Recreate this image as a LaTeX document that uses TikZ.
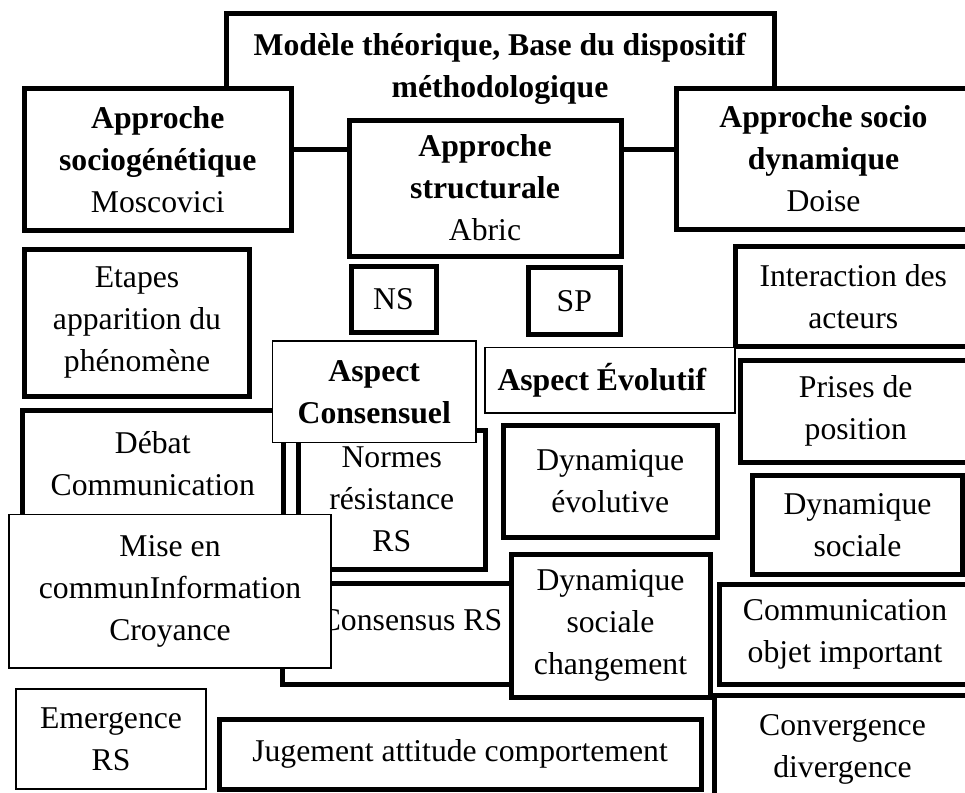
\documentclass[tikz,border=0pt]{standalone}
\usepackage{fontspec}
\setmainfont{Liberation Serif}
\newcommand\placebox[7]{%
  \pgfmathsetmacro\pbw{#5-#3}%
  \pgfmathsetmacro\pbh{#6-#4}%
  \pgfmathsetmacro\pbx{(#3+#5)/2}%
  \pgfmathsetmacro\pby{(#4+#6)/2}%
  \node[#2, minimum width=\pbw pt, minimum height=\pbh pt] (#1) at (\pbx,\pby) {#7};}
\tikzset{
  txt/.style={inner sep=0pt, outer sep=0pt, align=center, font=\fontsize{31.7}{42}\selectfont},
  box/.style={txt, rectangle, fill=white, draw=black},
  thickbox/.style={box, line width=5pt},
  thinbox/.style={box, line width=1.6pt},
  link/.style={draw=black, line width=5pt},
}
\begin{document}
\begin{tikzpicture}[x=1pt,y=-1pt]
\useasboundingbox (0,0) rectangle (965,792);
\clip (0,0) rectangle (965,792);
% top box
\node[txt] (modele) at (500,68.5) {\textbf{Modèle théorique, Base du dispositif}\\\textbf{méthodologique}};
\draw[link] (226.5,110) |- (774.5,14) -- (774.5,110);
% approaches
\placebox{socio}{thickbox}{24.5}{88}{291}{230.5}{\textbf{Approche}\\\textbf{sociogénétique}\\Moscovici}
\placebox{struct}{thickbox}{349}{120}{621}{256}{\textbf{Approche}\\\textbf{structurale}\\Abric}
\placebox{dyn}{thickbox}{676}{88}{971}{229}{\textbf{Approche socio}\\\textbf{dynamique}\\Doise}
\coordinate (lk) at (0,149);
\draw[link] (socio.east |- lk) -- (struct.west |- lk);
\draw[link] (struct.east |- lk) -- (dyn.west |- lk);
% second row
\placebox{etapes}{thickbox}{24.5}{249}{249.5}{396}{Etapes\\apparition du\\phénomène}
\placebox{ns}{thickbox}{351}{266.5}{436}{332}{NS}
\placebox{sp}{thickbox}{528}{267.5}{620.5}{334}{SP}
\placebox{inter}{thickbox}{735.5}{246.5}{971}{346}{Interaction des\\acteurs}
% middle
\placebox{debat}{thickbox}{22.5}{410}{283}{517}{Débat\\Communication}
\placebox{normes}{thickbox}{298.5}{430.5}{485}{569}{Normes\\résistance\\RS}
\placebox{consensuel}{thinbox}{272.5}{341}{476}{442.5}{\textbf{Aspect}\\\textbf{Consensuel}}
\placebox{evolutif}{thinbox}{485}{347.5}{735}{413}{\textbf{Aspect Évolutif}\hspace*{16pt}}
\placebox{prises}{thickbox}{740.5}{360}{971}{462.5}{Prises de\\position}
\placebox{dynevol}{thickbox}{503}{425.5}{717.5}{537.5}{Dynamique\\évolutive}
\placebox{dynsoc}{thickbox}{752.5}{475.5}{962.5}{574}{Dynamique\\sociale}
\placebox{consensus}{thickbox,text height=21pt,text depth=28pt}{282}{583}{540}{684}{Consensus RS}
\placebox{mise}{thinbox}{9}{514.3}{331}{667.7}{Mise en\\communInformation\\Croyance}
\placebox{dsc}{thickbox}{511}{554}{710}{697.5}{Dynamique\\sociale\\changement}
\placebox{comm}{thickbox}{719}{584}{971}{684}{Communication\\objet important}
\placebox{conv}{thickbox}{714}{695.5}{971}{804}{Convergence\\divergence}
% bottom
\placebox{jug}{thickbox}{219}{719}{701}{789}{Jugement attitude comportement}
\placebox{emerg}{thinbox}{16}{689}{206}{789}{Emergence\\RS}
\end{tikzpicture}
\end{document}
